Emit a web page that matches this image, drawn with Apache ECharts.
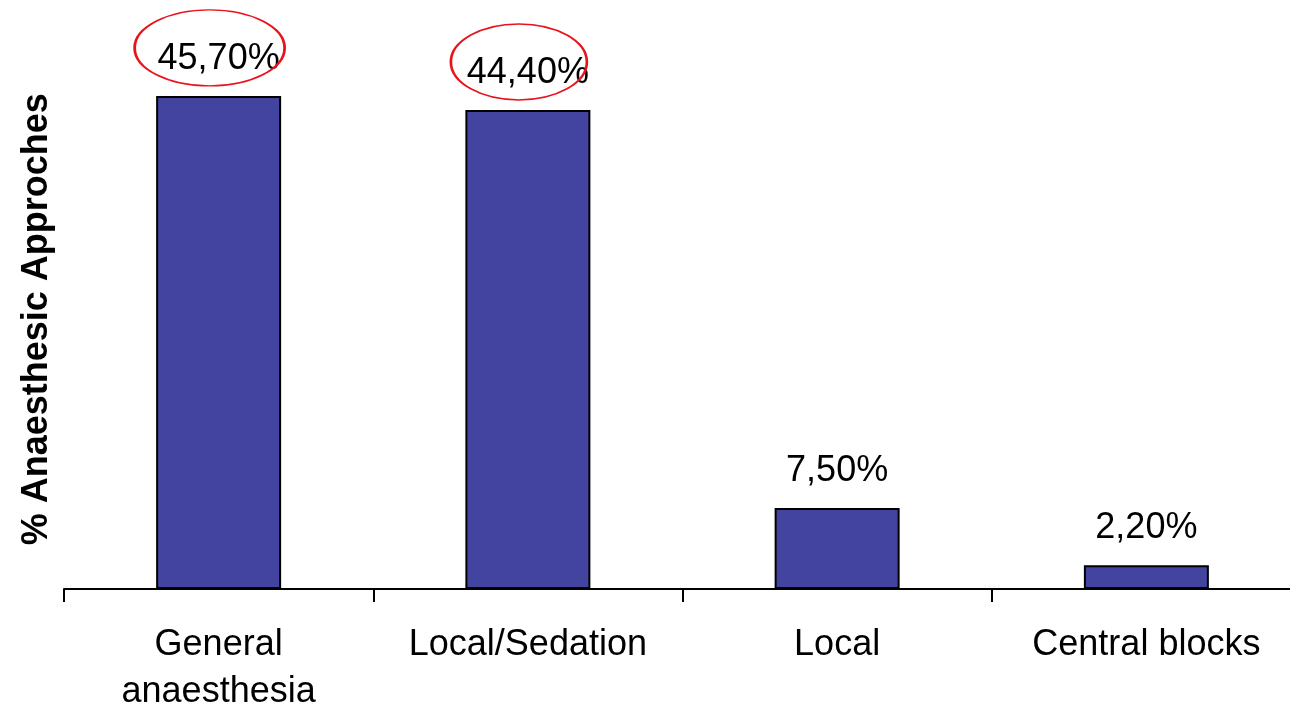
<!DOCTYPE html>
<html>
<head>
<meta charset="utf-8">
<script src="https://cdn.jsdelivr.net/npm/echarts@6/dist/echarts.min.js"></script>
<style>
  html, body { margin: 0; padding: 0; background: #fff; }
  #chart { width: 1290px; height: 708px; }
</style>
</head>
<body>
<div id="chart"></div>
<script>
  // data
  const categories = ['General\nanaesthesia', 'Local/Sedation', 'Local', 'Central blocks'];
  const values = [45.7, 44.4, 7.5, 2.2];
  const circled = [0, 1]; // labels ringed in red

  const chart = echarts.init(document.getElementById('chart'));

  const fmt = v => v.toFixed(2).replace('.', ',') + '%';

  const option = {
    animation: false,
    textStyle: { fontFamily: 'Liberation Sans, Arial, sans-serif' },
    grid: {
      left: 64,
      width: 1237,
      top: 49.5,
      height: 539.5,
      outerBoundsMode: 'none'
    },
    xAxis: {
      type: 'category',
      data: categories,
      axisLine: { lineStyle: { color: '#000', width: 2 } },
      axisTick: { show: true, interval: 0, alignWithLabel: false, length: 13, lineStyle: { color: '#000', width: 2 } },
      axisLabel: {
        interval: 0,
        hideOverlap: false,
        color: '#000',
        fontSize: 36,
        lineHeight: 47,
        margin: 33
      }
    },
    yAxis: {
      type: 'value',
      min: 0,
      max: 50,
      name: '% Anaesthesic Approches',
      nameLocation: 'middle',
      nameGap: 9,
      nameTextStyle: { color: '#000', fontSize: 36, fontWeight: 'bold' },
      axisLine: { show: false },
      axisTick: { show: false },
      axisLabel: { show: false },
      splitLine: { show: false }
    },
    series: [
      {
        type: 'bar',
        data: values,
        barWidth: 125,
        itemStyle: {
          color: '#4343A0',
          borderColor: '#000',
          borderWidth: 2
        },
        label: {
          show: true,
          position: 'top',
          distance: 19,
          color: '#000',
          fontSize: 36,
          formatter: p => fmt(p.value)
        },
        markPoint: {
          silent: true,
          label: { show: false },
          data: circled.map(i => ({
            coord: [i, values[i]],
            symbol: 'circle',
            symbolSize: i === 0 ? [150, 76] : [136, 76],
            symbolOffset: [-9, -48],
            itemStyle: { color: 'rgba(0,0,0,0)', borderColor: '#e8141c', borderWidth: 2 }
          }))
        }
      }
    ]
  };

  chart.setOption(option);
</script>
</body>
</html>
